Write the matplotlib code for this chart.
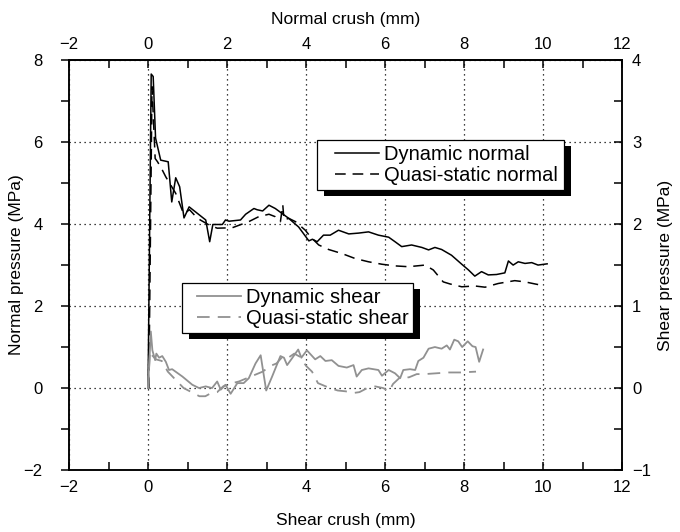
import matplotlib
matplotlib.use("Agg")
import matplotlib.pyplot as plt
from matplotlib.patches import Rectangle
from matplotlib.transforms import offset_copy
from matplotlib.ticker import MultipleLocator

plt.rcParams['font.family'] = ['Liberation Sans', 'DejaVu Sans']

# normal crush (mm) vs normal pressure (MPa)
dyn_normal_x = [0.00, 0.08, 0.13, 0.19, 0.32, 0.51, 0.60, 0.70, 0.80, 0.91, 1.04, 1.46, 1.56, 1.64, 1.88,
                1.96, 2.05, 2.34, 2.47, 2.68, 2.76, 2.90, 3.06, 3.22, 3.39, 3.56, 3.81, 4.07, 4.16, 4.28,
                4.44, 4.61, 4.82, 5.08, 5.33, 5.58, 5.83, 6.09, 6.25, 6.42, 6.67, 6.93, 7.10, 7.26, 7.43,
                7.68, 7.94, 8.11, 8.27, 8.44, 8.61, 8.82, 9.03, 9.12, 9.24, 9.37, 9.54, 9.71, 9.87, 10.10]
dyn_normal_p = [0.00, 7.66, 7.60, 6.10, 5.56, 5.52, 4.54, 5.13, 4.91, 4.15, 4.42, 4.10, 3.57, 3.99, 3.99,
                4.10, 4.07, 4.10, 4.24, 4.38, 4.35, 4.32, 4.46, 4.38, 4.26, 4.14, 3.93, 3.59, 3.63, 3.57,
                3.73, 3.73, 3.85, 3.76, 3.78, 3.81, 3.73, 3.68, 3.57, 3.45, 3.49, 3.43, 3.37, 3.43, 3.38,
                3.24, 3.02, 2.88, 2.73, 2.84, 2.76, 2.77, 2.81, 3.10, 3.00, 3.08, 3.04, 3.06, 3.00, 3.03]

qs_normal_x = [0.02, 0.10, 0.18, 0.24, 0.36, 0.45, 0.70, 0.90, 1.05, 1.25, 1.54, 1.75, 2.13, 2.55, 2.80,
               3.06, 3.22, 3.35, 3.41, 3.44, 3.56, 3.73, 3.98, 4.11, 4.32, 4.57, 4.91, 5.24, 5.58, 5.92,
               6.25, 6.59, 7.01, 7.22, 7.47, 7.64, 7.94, 8.27, 8.53, 8.86, 9.28, 9.54, 9.79, 10.00]
qs_normal_p = [0.00, 7.35, 5.60, 5.52, 5.32, 5.15, 4.75, 4.25, 4.35, 4.14, 3.98, 3.90, 3.91, 4.06, 4.18,
               4.24, 4.18, 4.06, 4.47, 4.10, 4.14, 4.06, 3.85, 3.69, 3.49, 3.38, 3.28, 3.16, 3.08, 3.02,
               2.98, 2.96, 3.00, 2.88, 2.59, 2.54, 2.47, 2.49, 2.46, 2.55, 2.62, 2.59, 2.54, 2.50]

# shear crush (mm) vs shear pressure (MPa)
dyn_shear_x = [0.00, 0.07, 0.11, 0.18, 0.21, 0.28, 0.36, 0.45, 0.53, 0.61, 0.87, 1.12, 1.29, 1.46, 1.62,
               1.75, 1.84, 1.96, 2.09, 2.26, 2.42, 2.55, 2.72, 2.85, 2.99, 3.14, 3.35, 3.44, 3.52, 3.64,
               3.80, 3.88, 4.02, 4.23, 4.36, 4.49, 4.65, 4.82, 5.03, 5.20, 5.28, 5.41, 5.58, 5.83, 5.92,
               6.09, 6.25, 6.38, 6.46, 6.63, 6.76, 6.84, 6.97, 7.10, 7.26, 7.43, 7.56, 7.64, 7.75, 7.85,
               7.95, 8.09, 8.21, 8.29, 8.38, 8.48]
dyn_shear_p = [0.00, 0.69, 0.46, 0.34, 0.42, 0.37, 0.39, 0.32, 0.22, 0.23, 0.14, 0.04, 0.00, 0.02, 0.00,
               0.08, -0.02, 0.04, -0.07, 0.06, 0.06, 0.12, 0.30, 0.40, -0.03, 0.14, 0.39, 0.37, 0.28, 0.36,
               0.47, 0.37, 0.46, 0.35, 0.39, 0.33, 0.34, 0.27, 0.25, 0.28, 0.14, 0.22, 0.24, 0.22, 0.15,
               0.22, 0.18, 0.12, 0.22, 0.23, 0.22, 0.33, 0.37, 0.48, 0.50, 0.48, 0.52, 0.47, 0.59, 0.57,
               0.50, 0.57, 0.51, 0.50, 0.32, 0.47]

qs_shear_x = [0.00, 0.05, 0.10, 0.20, 0.35, 0.50, 0.70, 0.90, 1.10, 1.30, 1.45, 1.60, 1.75, 1.90, 2.05,
              2.30, 2.50, 2.75, 2.90, 3.10, 3.25, 3.40, 3.55, 3.70, 3.85, 4.00, 4.15, 4.30, 4.45, 4.60,
              4.80, 5.00, 5.20, 5.35, 5.55, 5.75, 5.95, 6.10, 6.20, 6.40, 6.60, 6.80, 7.00, 7.30, 7.60,
              7.90, 8.30]
qs_shear_p = [0.00, 0.45, 0.40, 0.35, 0.33, 0.20, 0.10, 0.00, -0.05, -0.10, -0.10, -0.06, -0.05, 0.02, 0.05,
              0.08, 0.12, 0.17, 0.20, 0.27, 0.30, 0.38, 0.37, 0.42, 0.38, 0.27, 0.20, 0.06, 0.03, 0.00,
              -0.03, -0.04, -0.06, -0.05, 0.00, 0.02, 0.00, -0.04, 0.05, 0.14, 0.13, 0.17, 0.17, 0.18, 0.19,
              0.19, 0.20]

crush_ticks = [-2, 0, 2, 4, 6, 8, 10, 12]
crush_minor = [-1, 1, 3, 5, 7, 9, 11]

GREY = '#919191'
DASH = (0, (7, 4.5))

fig = plt.figure(figsize=(6.8, 5.32), dpi=100)
ax = fig.add_axes([0.1015, 0.1165, 0.8135, 0.7705])
ax2 = ax.twinx()

l1, = ax.plot(dyn_normal_x, dyn_normal_p, color='black', lw=1.1)
l2, = ax.plot(qs_normal_x, qs_normal_p, color='black', lw=1.1, linestyle=DASH)
l3, = ax2.plot(dyn_shear_x, dyn_shear_p, color=GREY, lw=1.3)
l4, = ax2.plot(qs_shear_x, qs_shear_p, color=GREY, lw=1.3, linestyle=DASH)

ax.set_xlim(-2, 12)
ax.set_ylim(-2, 8)
ax2.set_ylim(-1, 4)

ax.set_xticks(crush_ticks)
ax.set_xticks(crush_minor, minor=True)
ax.yaxis.set_major_locator(MultipleLocator(2))
ax.yaxis.set_minor_locator(MultipleLocator(1))
ax2.yaxis.set_major_locator(MultipleLocator(1))
ax2.yaxis.set_minor_locator(MultipleLocator(0.5))

ax.grid(True, which='major', color='black', linestyle=(0, (1, 3)), linewidth=0.9)

top = ax.secondary_xaxis('top')
top.set_xticks(crush_ticks)
top.set_xticks(crush_minor, minor=True)

for a in (ax, ax2):
    for s in a.spines.values():
        s.set_linewidth(1.1)

ax.tick_params(axis='x', which='both', direction='in', labelsize=12, pad=7, width=1.1, length=6)
ax.tick_params(axis='y', which='both', direction='out', labelsize=12, pad=13, width=1.1, length=6)
ax2.tick_params(axis='y', which='both', direction='in', labelsize=12, pad=7, width=1.1, length=6)
top.tick_params(axis='x', which='both', direction='in', labelsize=12, pad=6, width=1.1, length=6)
top.spines['top'].set_linewidth(1.1)

ax.set_xlabel('Shear crush (mm)', fontsize=12.5, labelpad=13)
ax.set_ylabel('Normal pressure (MPa)', fontsize=12.5, labelpad=0)
ax2.set_ylabel('Shear pressure (MPa)', fontsize=12.5, labelpad=5)
top.set_xlabel('Normal crush (mm)', fontsize=12.5, labelpad=9)

leg_kw = dict(loc='center left', borderaxespad=0, borderpad=0, frameon=False,
              fontsize=14.5, handlelength=2.2, handletextpad=0.25, labelspacing=0.1)

# legend boxes: (axes x0, y0, x1, y1), plus where the entries start
boxes = [
    (ax, [l1, l2], ['Dynamic normal', 'Quasi-static normal'], (0.449, 0.683, 0.894, 0.805), 0.480),
    (ax2, [l3, l4], ['Dynamic shear', 'Quasi-static shear'], (0.204, 0.334, 0.621, 0.456), 0.2305),
]
for a, handles, labels, (x0, y0, x1, y1), hx in boxes:
    leg = a.legend(handles, labels, bbox_to_anchor=(hx, (y0 + y1) / 2), **leg_kw)
    leg.set_zorder(6)
    shadow_tr = offset_copy(a.transAxes, fig=fig, x=7, y=-6, units='dots')
    a.add_patch(Rectangle((x0, y0), x1 - x0, y1 - y0, transform=shadow_tr,
                          facecolor='black', edgecolor='none', zorder=4.4, clip_on=False))
    a.add_patch(Rectangle((x0, y0), x1 - x0, y1 - y0, transform=a.transAxes,
                          facecolor='white', edgecolor='black', linewidth=0.9,
                          zorder=4.5, clip_on=False))

fig.savefig('out.png', dpi=100)
